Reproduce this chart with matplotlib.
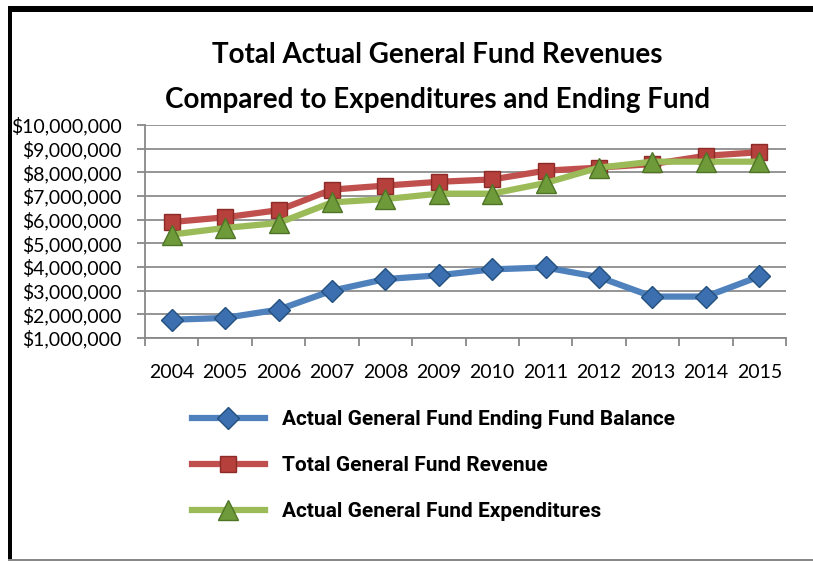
import matplotlib.pyplot as plt
import matplotlib.patches as patches
from matplotlib.ticker import FuncFormatter, MultipleLocator

# data
years = ['2004', '2005', '2006', '2007', '2008', '2009', '2010', '2011', '2012', '2013', '2014', '2015']
ending_balance = [1.77, 1.85, 2.2, 3.0, 3.49, 3.65, 3.9, 3.98, 3.57, 2.75, 2.75, 3.6]
revenue = [5.9, 6.1, 6.4, 7.27, 7.44, 7.6, 7.7, 8.07, 8.2, 8.35, 8.7, 8.85]
expenditures = [5.37, 5.65, 5.86, 6.73, 6.87, 7.1, 7.1, 7.55, 8.2, 8.45, 8.45, 8.45]

series_names = ['Actual General Fund Ending Fund Balance',
                'Total General Fund Revenue',
                'Actual General Fund Expenditures']

calib = ['Lato', 'DejaVu Sans']
narrow = ['Roboto', 'DejaVu Sans']

fig = plt.figure(figsize=(8.13, 5.61), dpi=100)
ax = fig.add_axes([145/813, 1-338/561, (786-145)/813, (338-125)/561])

x = list(range(len(years)))
scale = 1e6
ax.plot(x, [v*scale for v in ending_balance], color='#4F81BD', lw=4.5,
        marker='D', ms=11, mfc='#3B6FAF', mec='#24507F', mew=1, label=series_names[0], zorder=3)
ax.plot(x, [v*scale for v in revenue], color='#C0504D', lw=4.5,
        marker='s', ms=12, mfc='#B5403C', mec='#8C2B28', mew=1, label=series_names[1], zorder=3)
ax.plot(x, [v*scale for v in expenditures], color='#9BBB59', lw=4.5,
        marker='^', ms=15, mfc='#6E9A3A', mec='#4E7525', mew=1, label=series_names[2], zorder=4)

ax.set_ylim(1e6, 10e6)
ax.set_xlim(-0.5, len(years)-0.5)
ax.yaxis.set_major_locator(MultipleLocator(1e6))
ax.yaxis.set_major_formatter(FuncFormatter(lambda v, p: '${:,.0f}'.format(v)))
ax.set_xticks([i - 0.5 for i in range(len(years)+1)], minor=False)
ax.set_xticklabels([])
ax.set_xticks(x, minor=True)
ax.set_xticklabels(years, minor=True)
ax.tick_params(axis='x', which='minor', length=0, pad=19, labelsize=14)
ax.tick_params(axis='x', which='major', length=6, color='#888888', width=1.3)
ax.tick_params(axis='y', length=6, color='#888888', width=1.3, labelsize=14, pad=11)
for lab in ax.get_yticklabels() + ax.get_xticklabels(minor=True):
    lab.set_family(calib)
ax.grid(axis='y', color='#8C8C8C', lw=1.3)
ax.set_axisbelow(True)
for s in ['top', 'right']:
    ax.spines[s].set_visible(False)
for s in ['left', 'bottom']:
    ax.spines[s].set_color('#888888')
    ax.spines[s].set_linewidth(1.3)

fig.text(437/813, 1-55/561, 'Total Actual General Fund Revenues', ha='center', va='center',
         fontsize=20, fontweight='bold', family=calib)
fig.text(438/813, 1-100/561, 'Compared to Expenditures and Ending Fund', ha='center', va='center',
         fontsize=20, fontweight='bold', family=calib)

leg = fig.legend(loc='upper left', bbox_to_anchor=(192/813, 1-410/561), frameon=False,
                 prop={'family': narrow, 'weight': 'bold', 'size': 15},
                 handlelength=3.5, labelspacing=1.3, handletextpad=0.8,
                 borderaxespad=0, borderpad=0)

# outer border: thick black on left and top, grey at bottom
fig.add_artist(patches.Rectangle((8/813, 0), 4/813, 1-6/561, transform=fig.transFigure,
                                 color='black', lw=0))
fig.add_artist(patches.Rectangle((8/813, 1-12/561), 1, 6/561, transform=fig.transFigure,
                                 color='black', lw=0))
fig.add_artist(patches.Rectangle((8/813, 0), 1, 2/561, transform=fig.transFigure,
                                 color='#888888', lw=0))

fig.savefig('out.png', dpi=100)
